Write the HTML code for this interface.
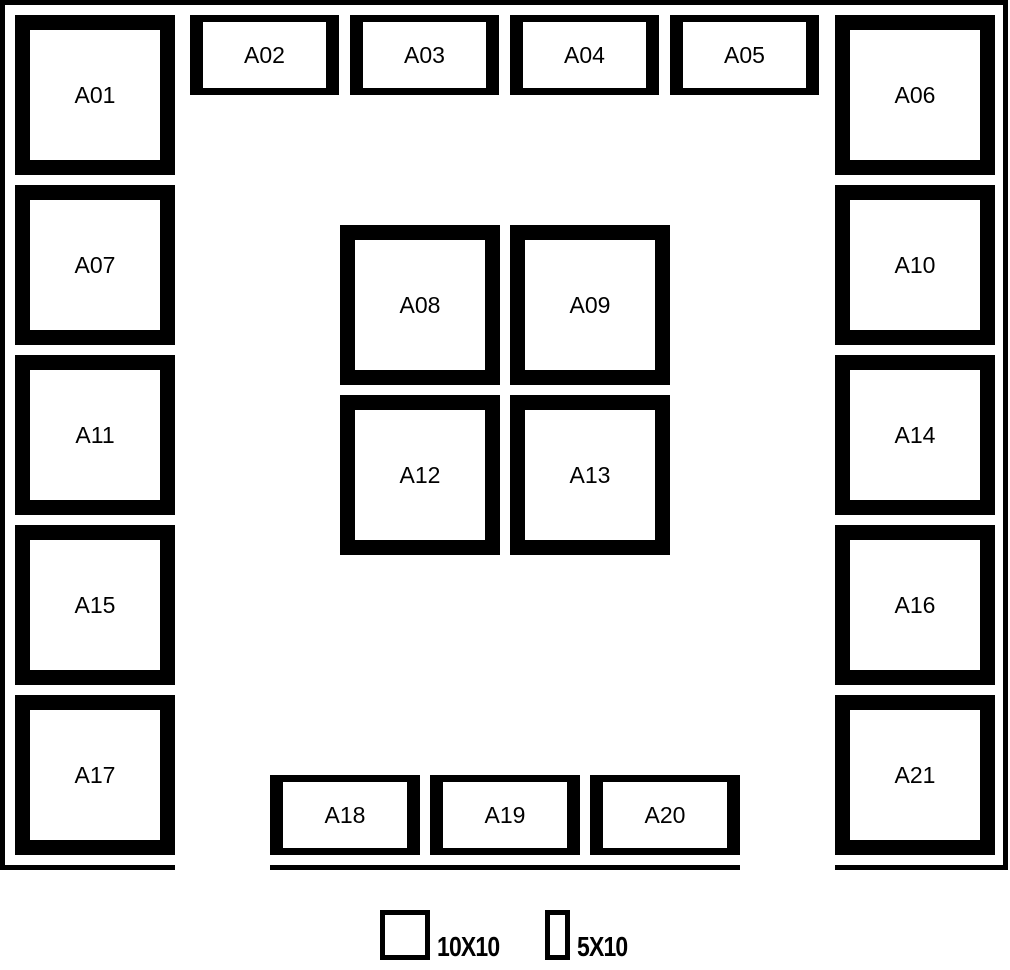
<!DOCTYPE html>
<html><head><style>
html,body{margin:0;padding:0;background:#fff;}
body{width:1010px;height:970px;position:relative;overflow:hidden;font-family:"Liberation Sans","DejaVu Sans",sans-serif;}
.b{position:absolute;box-sizing:border-box;border:15px solid #000;background:#fff;display:flex;align-items:center;justify-content:center;font-size:23px;color:#000;}
.s{border-width:7px 13px;}
.l{position:absolute;background:#000;}
.lg{position:absolute;font-weight:bold;font-size:28px;transform:scaleX(0.82);transform-origin:left;letter-spacing:-1px;white-space:nowrap;}
</style></head><body>
<div class="l" style="left:0;top:0;width:1008px;height:5px"></div>
<div class="l" style="left:0;top:0;width:5px;height:870px"></div>
<div class="l" style="left:1003px;top:0;width:5px;height:870px"></div>
<div class="l" style="left:0;top:865px;width:175px;height:5px"></div>
<div class="l" style="left:270px;top:865px;width:470px;height:5px"></div>
<div class="l" style="left:835px;top:865px;width:173px;height:5px"></div>

<div class="b" style="left:15px;top:15px;width:160px;height:160px">A01</div>
<div class="b" style="left:15px;top:185px;width:160px;height:160px">A07</div>
<div class="b" style="left:15px;top:355px;width:160px;height:160px">A11</div>
<div class="b" style="left:15px;top:525px;width:160px;height:160px">A15</div>
<div class="b" style="left:15px;top:695px;width:160px;height:160px">A17</div>

<div class="b" style="left:835px;top:15px;width:160px;height:160px">A06</div>
<div class="b" style="left:835px;top:185px;width:160px;height:160px">A10</div>
<div class="b" style="left:835px;top:355px;width:160px;height:160px">A14</div>
<div class="b" style="left:835px;top:525px;width:160px;height:160px">A16</div>
<div class="b" style="left:835px;top:695px;width:160px;height:160px">A21</div>

<div class="b s" style="left:190px;top:15px;width:149px;height:80px">A02</div>
<div class="b s" style="left:350px;top:15px;width:149px;height:80px">A03</div>
<div class="b s" style="left:510px;top:15px;width:149px;height:80px">A04</div>
<div class="b s" style="left:670px;top:15px;width:149px;height:80px">A05</div>

<div class="b" style="left:340px;top:225px;width:160px;height:160px">A08</div>
<div class="b" style="left:510px;top:225px;width:160px;height:160px">A09</div>
<div class="b" style="left:340px;top:395px;width:160px;height:160px">A12</div>
<div class="b" style="left:510px;top:395px;width:160px;height:160px">A13</div>

<div class="b s" style="left:270px;top:775px;width:150px;height:80px">A18</div>
<div class="b s" style="left:430px;top:775px;width:150px;height:80px">A19</div>
<div class="b s" style="left:590px;top:775px;width:150px;height:80px">A20</div>

<div style="position:absolute;left:380px;top:910px;width:50px;height:50px;box-sizing:border-box;border:5px solid #000"></div>
<div class="lg" style="left:437px;top:932px;line-height:30px">10X10</div>
<div style="position:absolute;left:545px;top:910px;width:25px;height:50px;box-sizing:border-box;border:5px solid #000"></div>
<div class="lg" style="left:577px;top:932px;line-height:30px">5X10</div>
</body></html>
